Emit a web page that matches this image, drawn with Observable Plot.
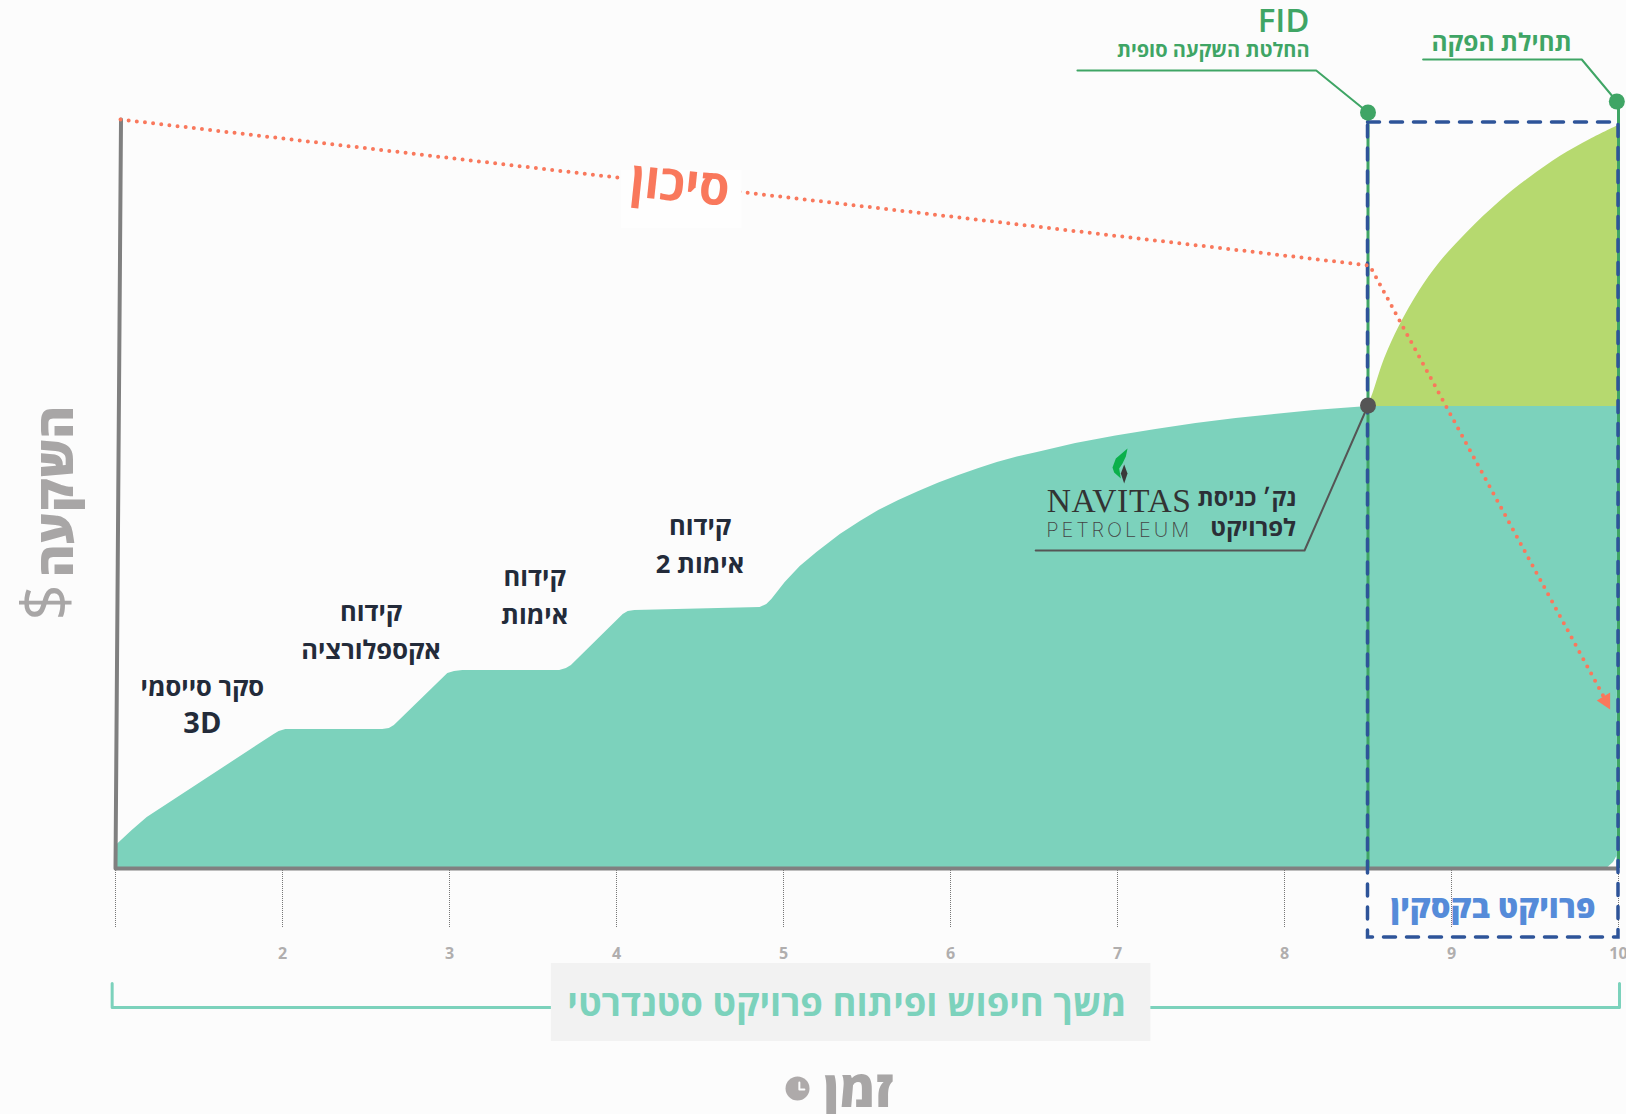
<!DOCTYPE html>
<html lang="he">
<head>
<meta charset="utf-8">
<script src="https://cdn.jsdelivr.net/npm/d3@7"></script>
<script src="https://cdn.jsdelivr.net/npm/@observablehq/plot@0.6"></script>
<style>
html,body{margin:0;padding:0;background:#fcfcfc;overflow:hidden}
svg{display:block;background:transparent!important}
.petroleum text{letter-spacing:2.9px}
.navitas text{letter-spacing:.7px}
</style>
</head>
<body>
<div id="chart"></div>
<script>
const years = [1,2,3,4,5,6,7,8,9,10];
const fid = 8.5;
const production = 10;
const entry = 462;
const investmentCurve = [[1,0],[1,20],[1.01,24],[1.1,38],[1.19,51],[1.95,134],[1.98,137],[2.02,139],[2.60,139],[2.64,140],[2.67,143],[2.99,195],[3.03,197],[3.08,198],[3.66,198],[3.70,200],[3.73,203],[4.04,254],[4.07,257],[4.11,258],[4.86,261],[4.90,264],[4.93,269],[5.01,286],[5.10,302],[5.20,316],[5.34,334],[5.46,347],[5.57,358],[5.69,368],[5.81,377],[5.93,385.5],[6.05,393],[6.17,400],[6.28,406],[6.40,411.5],[6.52,416],[6.75,425],[6.99,432.5],[7.23,439],[7.47,445],[7.71,450],[7.94,454],[8.18,458],[8.5,462],[10,462],[10,20],[9.99,12],[9.97,6],[9.93,0]];
const productionCurve = [[8.5,462],[8.53,475],[8.60,510],[8.69,543],[8.81,578],[8.93,606],[9.10,637],[9.29,667],[9.47,691],[9.65,712],[9.83,729],[10,743]];
const riskLine = [[1.03,749],[8.51,603],[9.94,163]];
const riskHead = [[9.95,159],[9.87,168],[9.95,176],[9.95,159]];
const yAxisLine = [[1.033,749],[1,0]];
const bracket = [[0.98,-115],[0.98,-139],[10.006,-139],[10.006,-115]];
const fidLeader = [[6.76,798],[8.19,798],[8.5,756]];
const prodLeader = [[8.83,809],[9.78,809],[9.99,767]];
const entryLeader = [[6.51,318],[8.12,318],[8.5,entry+1]];
const leaf = [[7.06,420],[6.99,410],[6.97,401],[6.98,396],[7.02,390],[7.01,400],[7.03,405],[7.05,412],[7.06,420]];
const drop = [[7.04,404],[7.06,395],[7.04,385],[7.02,395],[7.04,404]];
const clockHands = [[5.095,-214],[5.095,-221],[5.125,-221]];
const stages = [
  {x:1.52,y:181,t:"סקר סייסמי",s:25.5},{x:1.52,y:145,t:"3D",s:29},
  {x:2.53,y:256,t:"קידוח",s:25.5},{x:2.53,y:218,t:"אקספלורציה",s:25.5},
  {x:3.51,y:291,t:"קידוח",s:25.5},{x:3.51,y:253,t:"אימות",s:25.5},
  {x:4.50,y:342,t:"קידוח",s:25.5},{x:4.50,y:304,t:"אימות 2",s:25.5}
];
const COL = {teal:"#7cd2bc",lime:"#b6d96f",green:"#3fa565",blue:"#2e5499",red:"#f9785c",gray:"#808080",lgray:"#a8a6a6",dark:"#232b3a",leader:"#555555"};
const HEB = "'Open Sans','Liberation Sans',sans-serif";
const lineOf = (pts,o)=>Plot.line(pts,{x:d=>d[0],y:d=>d[1],...o});
const label = (x,y,text,o)=>Plot.text([text],{x:()=>x,y:()=>y,text:d=>d,fontFamily:HEB,fontWeight:700,lineAnchor:"middle",...o});

const chart = Plot.plot({
  width:1626,height:1114,
  marginLeft:115,marginRight:8,marginTop:119,marginBottom:246,
  x:{domain:[1,10]},
  y:{domain:[0,749],axis:null},
  marks:[
    Plot.areaY(investmentCurve,{x:d=>d[0],y:d=>d[1],fill:COL.teal}),
    Plot.areaY(productionCurve,{x:d=>d[0],y1:()=>entry,y2:d=>d[1],fill:COL.lime,curve:"catmull-rom"}),
    Plot.axisX({ticks:years,tickSize:60,tickPadding:19,label:null,stroke:"#777",fill:"#b0aeae",strokeDasharray:"1 1",strokeWidth:1,fontSize:16,fontWeight:700,tickFormat:d=>d===1?"":d,fontFamily:HEB}),
    lineOf(yAxisLine,{stroke:COL.gray,strokeWidth:4}),
    Plot.ruleY([0],{stroke:COL.gray,strokeWidth:4}),
    Plot.ruleX([fid],{y1:0,y2:756,stroke:COL.green,strokeWidth:3}),
    Plot.ruleX([production],{y1:0,y2:767,stroke:COL.green,strokeWidth:3}),
    Plot.rect([{}],{x1:()=>fid,x2:()=>production,y1:()=>746,y2:()=>-69,stroke:COL.blue,strokeWidth:3.5,fill:"none",strokeDasharray:"12 11",strokeLinecap:"round"}),
    lineOf(riskLine,{stroke:COL.red,strokeWidth:4,strokeDasharray:"0 8.2",strokeLinecap:"round"}),
    lineOf(riskHead,{stroke:null,fill:COL.red}),
    Plot.rect([{}],{x1:()=>4.03,x2:()=>4.75,y1:()=>640,y2:()=>698,fill:"#fefefe"}),
    label(4.38,683,"סיכון",{fill:COL.red,fontSize:49,rotate:6}),
    lineOf(fidLeader,{stroke:COL.green,strokeWidth:2}),
    lineOf(prodLeader,{stroke:COL.green,strokeWidth:2}),
    lineOf(entryLeader,{stroke:COL.leader,strokeWidth:2}),
    Plot.dot([[fid,756],[9.99,767]],{x:d=>d[0],y:d=>d[1],r:8,fill:COL.green}),
    Plot.dot([[fid,entry+1]],{x:d=>d[0],y:d=>d[1],r:8,fill:COL.leader}),
    label(8.15,847,"FID",{fill:COL.green,fontSize:33,textAnchor:"end",fontWeight:600}),
    label(8.15,818,"החלטת השקעה סופית",{fill:COL.green,fontSize:20,textAnchor:"end"}),
    label(9.30,825,"תחילת הפקה",{fill:COL.green,fontSize:24.5}),
    Plot.text(stages,{x:"x",y:"y",text:"t",fontSize:"s",fill:COL.dark,fontFamily:HEB,fontWeight:700,lineAnchor:"middle"}),
    lineOf(leaf,{stroke:null,fill:"#0bb04b"}),
    lineOf(drop,{stroke:null,fill:"#3a3a3a"}),
    label(7.01,367,"NAVITAS",{fill:"#333",fontSize:33.5,fontFamily:"'Liberation Serif',serif",fontWeight:400,className:"navitas"}),
    label(7.01,338,"PETROLEUM",{fill:"#444",fontSize:20,fontFamily:"Inter,sans-serif",fontWeight:200,className:"petroleum"}),
    label(8.07,370,"נק׳ כניסת",{fill:"#2b2f36",fontSize:23,textAnchor:"end"}),
    label(8.07,340,"לפרויקט",{fill:"#2b2f36",fontSize:24,textAnchor:"end"}),
    label(9.25,-40,"פרויקט בקסקין",{fill:"#558bd9",fontSize:31,fontWeight:800}),
    lineOf(bracket,{stroke:COL.teal,strokeWidth:3}),
    Plot.rect([{}],{x1:()=>3.61,x2:()=>7.20,y1:()=>-95,y2:()=>-173,fill:"#f2f2f2"}),
    label(5.38,-136,"משך חיפוש ופיתוח פרויקט סטנדרטי",{fill:COL.teal,fontSize:36.5}),
    label(5.45,-222,"זמן",{fill:COL.lgray,fontSize:51,fontWeight:800}),
    Plot.dot([[5.084,-220]],{x:d=>d[0],y:d=>d[1],r:12,fill:"#aeaaaa"}),
    lineOf(clockHands,{stroke:"#fcfcfc",strokeWidth:2}),
    label(0.65,377,"השקעה",{fill:COL.lgray,fontSize:50,fontWeight:800,rotate:-90}),
    label(0.59,266,"$",{fill:COL.lgray,fontSize:64,fontWeight:400,rotate:-90})
  ]
});
document.getElementById("chart").appendChild(chart);
</script>
</body>
</html>
